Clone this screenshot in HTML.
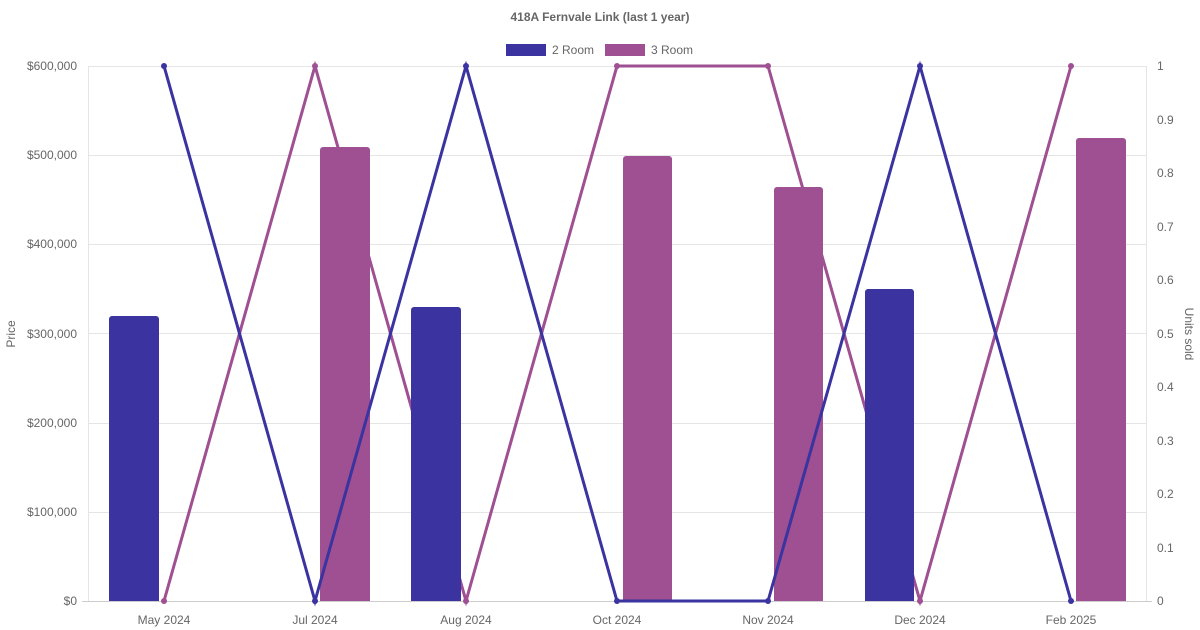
<!DOCTYPE html>
<html><head><meta charset="utf-8"><style>
html,body{margin:0;padding:0;background:#fff;}
svg{display:block;font-family:"Liberation Sans",Arial,sans-serif;}
</style></head><body>
<svg width="1200" height="630" viewBox="0 0 1200 630" xmlns="http://www.w3.org/2000/svg">
<text x="600" y="21" text-anchor="middle" font-size="12" font-weight="bold" fill="#666">418A Fernvale Link (last 1 year)</text>
<rect x="506" y="44" width="40" height="12" fill="#3a33a0"/>
<text x="552" y="54" font-size="12" fill="#666">2 Room</text>
<rect x="605" y="44" width="40" height="12" fill="#9e5092"/>
<text x="651" y="54" font-size="12" fill="#666">3 Room</text>
<g stroke="#e5e5e5" stroke-width="1">
<line x1="88" y1="66.5" x2="1146" y2="66.5"/>
<line x1="88" y1="155.5" x2="1146" y2="155.5"/>
<line x1="88" y1="244.5" x2="1146" y2="244.5"/>
<line x1="88" y1="333.5" x2="1146" y2="333.5"/>
<line x1="88" y1="423.5" x2="1146" y2="423.5"/>
<line x1="88" y1="512.5" x2="1146" y2="512.5"/>
<line x1="88.5" y1="66" x2="88.5" y2="601"/>
<line x1="1146.5" y1="66" x2="1146.5" y2="601"/>
</g>
<line x1="82" y1="601.5" x2="1152" y2="601.5" stroke="#ccc"/>
<g font-size="12" fill="#666" text-anchor="end">
<text x="77" y="70">$600,000</text>
<text x="77" y="159">$500,000</text>
<text x="77" y="248">$400,000</text>
<text x="77" y="338">$300,000</text>
<text x="77" y="427">$200,000</text>
<text x="77" y="516">$100,000</text>
<text x="77" y="605">$0</text>
</g>
<g font-size="12" fill="#666">
<text x="1157" y="70">1</text>
<text x="1157" y="124">0.9</text>
<text x="1157" y="177">0.8</text>
<text x="1157" y="231">0.7</text>
<text x="1157" y="284">0.6</text>
<text x="1157" y="338">0.5</text>
<text x="1157" y="391">0.4</text>
<text x="1157" y="445">0.3</text>
<text x="1157" y="498">0.2</text>
<text x="1157" y="552">0.1</text>
<text x="1157" y="605">0</text>
</g>
<g font-size="12" fill="#666" text-anchor="middle">
<text x="164" y="624">May 2024</text>
<text x="315" y="624">Jul 2024</text>
<text x="466" y="624">Aug 2024</text>
<text x="617" y="624">Oct 2024</text>
<text x="768" y="624">Nov 2024</text>
<text x="920" y="624">Dec 2024</text>
<text x="1071" y="624">Feb 2025</text>
</g>
<text transform="translate(15,334) rotate(-90)" font-size="12" fill="#666" text-anchor="middle">Price</text>
<text transform="translate(1185,334) rotate(90)" font-size="12" fill="#666" text-anchor="middle">Units sold</text>
<polyline fill="none" stroke="#9e5092" stroke-width="3" points="164,601 315,66 466,601 617,66 768,66 920,601 1071,66"/>
<g fill="#9e5092">
<circle cx="164" cy="601" r="3"/><circle cx="315" cy="66" r="3"/><circle cx="466" cy="601" r="3"/><circle cx="617" cy="66" r="3"/><circle cx="768" cy="66" r="3"/><circle cx="920" cy="601" r="3"/><circle cx="1071" cy="66" r="3"/>
</g>
<g fill="#3a33a0">
<path d="M109,601 V319 a3,3 0 0 1 3,-3 H156 a3,3 0 0 1 3,3 V601Z"/>
<path d="M411,601 V310 a3,3 0 0 1 3,-3 H458 a3,3 0 0 1 3,3 V601Z"/>
<path d="M865,601 V292 a3,3 0 0 1 3,-3 H911 a3,3 0 0 1 3,3 V601Z"/>
</g>
<g fill="#9e5092">
<path d="M320,601 V150 a3,3 0 0 1 3,-3 H367 a3,3 0 0 1 3,3 V601Z"/>
<path d="M623,601 V159 a3,3 0 0 1 3,-3 H669 a3,3 0 0 1 3,3 V601Z"/>
<path d="M774,601 V190 a3,3 0 0 1 3,-3 H820 a3,3 0 0 1 3,3 V601Z"/>
<path d="M1076,601 V141 a3,3 0 0 1 3,-3 H1123 a3,3 0 0 1 3,3 V601Z"/>
</g>
<polyline fill="none" stroke="#3a33a0" stroke-width="3" points="164,66 315,601 466,66 617,601 768,601 920,66 1071,601"/>
<g fill="#3a33a0">
<circle cx="164" cy="66" r="3"/><circle cx="315" cy="601" r="3"/><circle cx="466" cy="66" r="3"/><circle cx="617" cy="601" r="3"/><circle cx="768" cy="601" r="3"/><circle cx="920" cy="66" r="3"/><circle cx="1071" cy="601" r="3"/>
</g>
</svg>
</body></html>
